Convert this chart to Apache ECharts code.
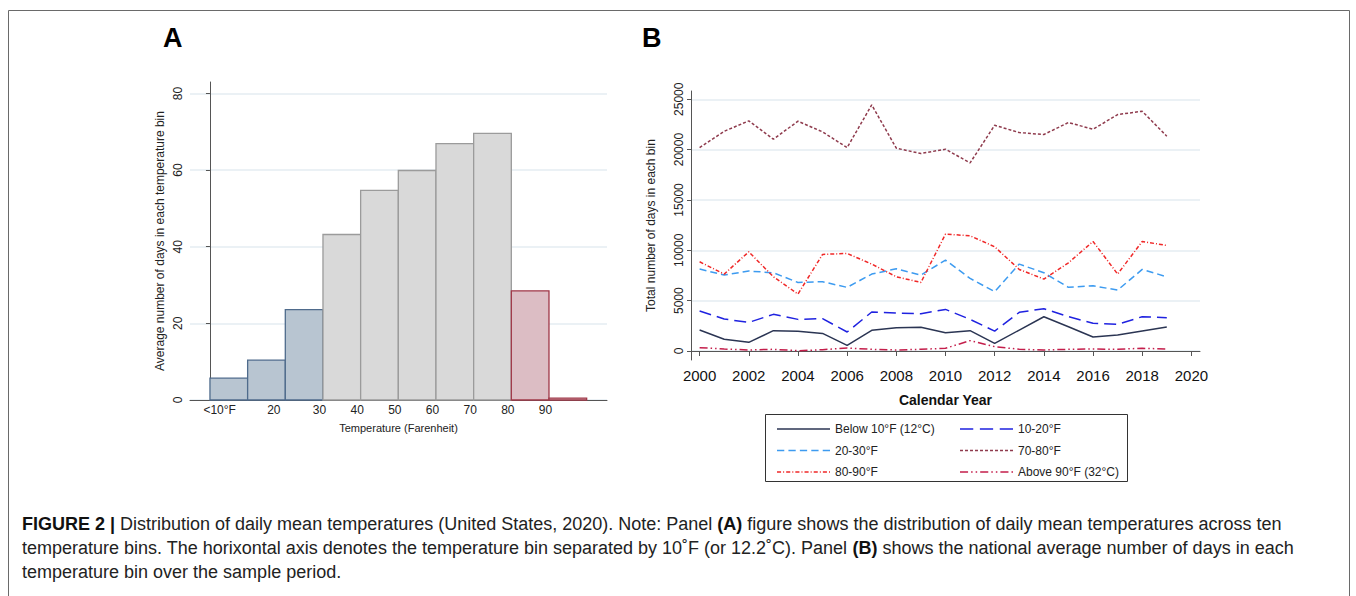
<!DOCTYPE html>
<html><head><meta charset="utf-8">
<script src="https://cdn.jsdelivr.net/npm/echarts@6/dist/echarts.min.js"></script>
<style>html,body{margin:0;padding:0;background:#fff}#c{width:1356px;height:596px}</style>
</head><body><div id="c"></div>
<script>
// ---------- Panel A data ----------
const binEdges = [0, 10, 20, 30, 40, 50, 60, 70, 80, 90, 100];
const binDays = [5.7, 10.4, 23.6, 43.2, 54.7, 59.9, 66.9, 69.6, 28.5, 0.5];
const binGroup = ['cold', 'cold', 'cold', 'mild', 'mild', 'mild', 'mild', 'mild', 'hot', 'hot'];
const aTickValues = [10, 20, 30, 40, 50, 60, 70, 80, 90];
const aTickLabels = ['<10°F', '20', '30', '40', '50', '60', '70', '80', '90'];
const aYTicks = [0, 20, 40, 60, 80];

// ---------- Panel B data ----------
const years = [2000, 2001, 2002, 2003, 2004, 2005, 2006, 2007, 2008, 2009, 2010, 2011, 2012, 2013, 2014, 2015, 2016, 2017, 2018, 2019];
const below10 = [2080, 1160, 860, 2020, 1950, 1750, 560, 2050, 2310, 2350, 1820, 2020, 760, 2080, 3400, 2410, 1390, 1590, 1980, 2380];
const f10to20 = [3970, 3180, 2840, 3640, 3140, 3210, 1890, 3870, 3770, 3700, 4130, 3140, 1980, 3840, 4200, 3410, 2750, 2650, 3410, 3310];
const f20to30 = [8140, 7540, 7940, 7770, 6810, 6880, 6320, 7640, 8170, 7540, 9030, 7210, 5890, 8630, 7770, 6320, 6480, 6050, 8100, 7370];
const f70to80 = [20200, 21820, 22850, 21030, 22820, 21760, 20200, 24440, 20140, 19610, 20040, 18680, 22420, 21690, 21500, 22690, 22020, 23480, 23810, 21330];
const f80to90 = [8860, 7640, 9850, 7370, 5660, 9590, 9690, 8630, 7370, 6810, 11610, 11440, 10350, 8100, 7140, 8760, 10880, 7640, 10880, 10480];
const above90 = [330, 200, 100, 170, 30, 130, 300, 170, 100, 170, 270, 1030, 430, 170, 100, 170, 200, 170, 270, 200];
const bYTicks = [0, 5000, 10000, 15000, 20000, 25000];
const bXTicks = [2000, 2002, 2004, 2006, 2008, 2010, 2012, 2014, 2016, 2018, 2020];

const seriesNames = ['Below 10°F (12°C)', '10-20°F', '20-30°F', '70-80°F', '80-90°F', 'Above 90°F (32°C)'];
const seriesData = [below10, f10to20, f20to30, f70to80, f80to90, above90];

// ---------- styles ----------
const groupStyle = {
  cold: { fill: '#b8c5d1', stroke: '#4f6b8c' },
  mild: { fill: '#d9d9d9', stroke: '#9b9b9b' },
  hot:  { fill: '#dcbdc4', stroke: '#a03848' }
};
const lineStyles = [
  { color: '#2b3553', type: 'solid' },
  { color: '#1f22e0', type: [12, 6] },
  { color: '#3d9bf0', type: [7, 4] },
  { color: '#8f3b4d', type: [3, 2] },
  { color: '#f02828', type: [4, 2, 1, 2] },
  { color: '#c41e4b', type: [8, 3, 1.5, 3, 1.5, 3] }
];
const FONT = 'Liberation Sans, Arial, sans-serif';
const gridLineColor = '#e4edf2';
const LEG_W = 53, LEG_H = 1.6;

// legend icon path: filled dash rectangles following the line's dash pattern
function dashIcon(type) {
  const pat = type === 'solid' ? [LEG_W, 0] : type;
  let x = 0, k = 0, d = '';
  while (x < LEG_W - 0.01) {
    const len = pat[k % pat.length];
    if (k % 2 === 0) {
      const w = Math.min(len, LEG_W - x);
      if (w > 0) d += 'M' + x.toFixed(2) + ' 0h' + w.toFixed(2) + 'v' + LEG_H + 'h-' + w.toFixed(2) + 'z';
    }
    x += len; k++;
    if (len === 0 && pat.length === 2) break;
  }
  return 'path://' + d;
}

const chart = echarts.init(document.getElementById('c'), null, { renderer: 'svg' });

const barData = binDays.map((v, i) => [binEdges[i], binEdges[i + 1], v, i]);

function legendData(idx) {
  return idx.map(k => ({ name: seriesNames[k], icon: dashIcon(lineStyles[k].type), itemStyle: { color: lineStyles[k].color } }));
}

const option = {
  animation: false,
  textStyle: { fontFamily: FONT },
  grid: [
    { left: 190, right: 749, top: 82, bottom: 196 },
    { left: 691, right: 156, top: 91, bottom: 236 }
  ],
  xAxis: [
    {
      type: 'value', gridIndex: 0, min: -5.3, max: 105.4,
      axisLine: { show: true, lineStyle: { color: '#555', width: 1 } },
      axisTick: { show: false },
      splitLine: { show: false },
      axisLabel: {
        customValues: aTickValues,
        color: '#222', fontSize: 12, margin: 4,
        formatter: function (v) {
          const i = aTickValues.indexOf(v);
          const t = i >= 0 ? aTickLabels[i] : '';
          if (i === 0) return '{a|' + t + '}';
          if (i === 1) return '{b|' + t + '}';
          return '{c|' + t + '}';
        },
        rich: {
          a: { fontSize: 12, color: '#222', padding: [0, 56, 0, 0] },
          b: { fontSize: 12, color: '#222', padding: [0, 23, 0, 0] },
          c: { fontSize: 12, color: '#222', padding: [0, 7, 0, 0] }
        }
      },
      name: 'Temperature (Farenheit)', nameLocation: 'middle', nameGap: 22,
      nameTextStyle: { fontSize: 11, color: '#222' }
    },
    {
      type: 'value', gridIndex: 1, min: 1999.65, max: 2020.35,
      axisLine: { show: true, lineStyle: { color: '#555', width: 1 } },
      axisTick: { show: true, customValues: bXTicks, length: 5, lineStyle: { color: '#555' } },
      splitLine: { show: false },
      axisLabel: { customValues: bXTicks, fontSize: 15, color: '#111', margin: 8, formatter: v => String(v) },
      name: 'Calendar Year', nameLocation: 'middle', nameGap: 33,
      nameTextStyle: { fontSize: 14, fontWeight: 'bold', color: '#111' }
    }
  ],
  yAxis: [
    {
      type: 'value', gridIndex: 0, min: 0, max: 83,
      axisLine: { show: true, lineStyle: { color: '#555', width: 1 } },
      axisTick: { show: true, customValues: aYTicks, length: 4, inside: false, lineStyle: { color: '#555' } },
      splitLine: { show: true, lineStyle: { color: gridLineColor, width: 1.5 } },
      axisLabel: { customValues: aYTicks, rotate: 90, fontSize: 12, color: '#222', margin: 6, formatter: v => String(v) },
      name: 'Average number of days in each temperature bin', nameLocation: 'middle', nameGap: 24,
      nameTextStyle: { fontSize: 12, color: '#222' }
    },
    {
      type: 'value', gridIndex: 1, min: -893, max: 25820,
      axisLine: { show: true, lineStyle: { color: '#555', width: 1 } },
      axisTick: { show: true, customValues: bYTicks, length: 4, lineStyle: { color: '#555' } },
      splitLine: { show: true, lineStyle: { color: gridLineColor, width: 1.5 } },
      axisLabel: { customValues: bYTicks, rotate: 90, fontSize: 12, color: '#222', margin: 6, formatter: v => String(v) },
      name: 'Total number of days in each bin', nameLocation: 'middle', nameGap: 34,
      nameTextStyle: { fontSize: 12, color: '#222' }
    }
  ],
  legend: [
    {
      orient: 'vertical', left: 772, top: 418, itemWidth: LEG_W, itemHeight: LEG_H, itemGap: 9.5,
      symbolKeepAspect: false,
      data: legendData([0, 2, 4]),
      textStyle: { fontSize: 12, color: '#222', fontFamily: FONT }
    },
    {
      orient: 'vertical', left: 955, top: 418, itemWidth: LEG_W, itemHeight: LEG_H, itemGap: 9.5,
      symbolKeepAspect: false,
      data: legendData([1, 3, 5]),
      textStyle: { fontSize: 12, color: '#222', fontFamily: FONT }
    }
  ],
  series: [
    {
      type: 'custom', xAxisIndex: 0, yAxisIndex: 0,
      data: barData,
      encode: { x: [0, 1], y: 2 },
      renderItem: function (params, api) {
        const p0 = api.coord([api.value(0), api.value(2)]);
        const p1 = api.coord([api.value(1), 0]);
        const g = groupStyle[binGroup[api.value(3)]];
        return {
          type: 'rect',
          shape: { x: p0[0], y: p0[1], width: p1[0] - p0[0], height: p1[1] - p0[1] },
          style: { fill: g.fill, stroke: g.stroke, lineWidth: 1.3 }
        };
      }
    }
  ].concat(seriesNames.map((n, k) => ({
    type: 'line', name: n, xAxisIndex: 1, yAxisIndex: 1,
    symbol: 'none', showSymbol: false,
    data: years.map((y, i) => [y, seriesData[k][i]]),
    lineStyle: { color: lineStyles[k].color, type: lineStyles[k].type, width: 1.5 },
    itemStyle: { color: lineStyles[k].color }
  }))),
  graphic: [
    { type: 'rect', shape: { x: 8.5, y: 10.5, width: 1341, height: 600 }, style: { fill: 'none', stroke: '#6a6a6a', lineWidth: 1 }, silent: true },
    { type: 'rect', shape: { x: 765.5, y: 414.5, width: 362, height: 67 }, style: { fill: 'none', stroke: '#333', lineWidth: 1 }, silent: true },
    { type: 'text', left: 163, top: 24, style: { text: 'A', font: 'bold 27px ' + FONT, fill: '#000' } },
    { type: 'text', left: 642, top: 24, style: { text: 'B', font: 'bold 27px ' + FONT, fill: '#000' } },
    {
      type: 'text', left: 22, top: 512,
      style: {
        text: '{b|FIGURE 2 |} Distribution of daily mean temperatures (United States, 2020). Note: Panel {b|(A)} figure shows the distribution of daily mean temperatures across ten\n' +
              'temperature bins. The horixontal axis denotes the temperature bin separated by 10˚F (or 12.2˚C). Panel {b|(B)} shows the national average number of days in each\n' +
              'temperature bin over the sample period.',
        font: '18px ' + FONT, fill: '#222', lineHeight: 24,
        rich: { b: { fontWeight: 'bold', fontSize: 18, fontFamily: FONT, fill: '#111', lineHeight: 24 } }
      }
    }
  ]
};
chart.setOption(option);
</script></body></html>
